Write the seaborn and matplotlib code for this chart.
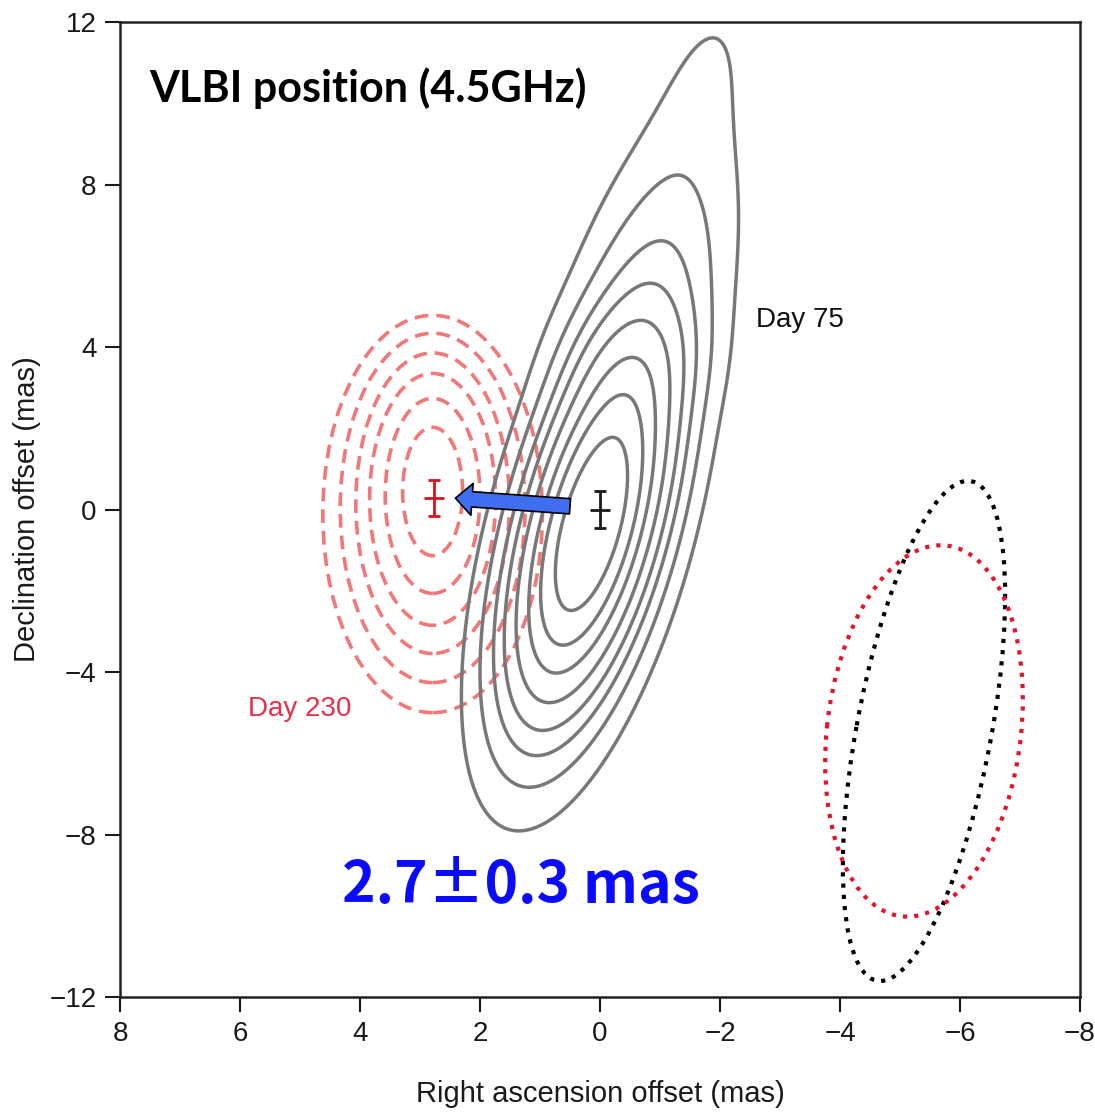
import numpy as np
import matplotlib
matplotlib.use("Agg")
import matplotlib.pyplot as plt
import seaborn as sns
from matplotlib.patches import Ellipse, FancyArrowPatch

# Day 75 image: Gaussian components placed along the jet axis (mas)
day75_cx = [0.15, -0.56, -0.94, -1.78]
day75_cy = [-0.43, 3.71, 5.98, 10.91]
day75_amp = [1.0, 0.04, 0.105, 0.036]
day75_s_along = [3.0, 1.0, 2.45, 2.0]
day75_s_across = [0.7, 0.8, 0.8, 0.6]
day75_axis = [-0.168, 0.986]
day75_levels = [0.041, 0.096, 0.164, 0.239, 0.344, 0.478, 0.617, 0.786]

day230_x = 2.79
day230_yc = [-0.11, 0.04, 0.155, 0.25, 0.335, 0.445]
day230_half_w = [1.83, 1.54, 1.28, 1.05, 0.79, 0.50]
day230_half_h = [4.89, 4.30, 3.70, 3.10, 2.40, 1.58]

# restoring beams
beam_x = [-5.4, -5.4]
beam_y = [-5.45, -5.45]
beam_major = [12.4, 9.16]
beam_minor = [2.26, 3.24]
beam_angle = [97, 94]
beam_color = ["black", "#e3152b"]

# fitted positions
pos_ra = [0.0, 2.77]
pos_dec = [0.0, 0.28]
ra_err = [0.17, 0.17]
dec_err = [0.45, 0.45]
pos_color = ["#1a1a1a", "#d8141e"]

# shift arrow (day 75 -> day 230)
arrow_from = (0.5, 0.08)
arrow_to = (2.41, 0.28)

sns.set_theme(style="ticks")
plt.rcParams["font.family"] = ["Liberation Sans", "DejaVu Sans"]

fig = plt.figure(figsize=(10.95, 11.13), dpi=100)
ax = fig.add_axes([0.1096, 0.1042, 0.8767, 0.876])

# day 75 contours
xs = np.linspace(-8, 8, 500)
ys = np.linspace(-12, 12, 800)
X, Y = np.meshgrid(xs, ys)
dx, dy = np.array(day75_axis) / np.hypot(*day75_axis)
Z = np.zeros_like(X)
for cx, cy, a, su, sw in zip(day75_cx, day75_cy, day75_amp, day75_s_along, day75_s_across):
    U = (X - cx) * dx + (Y - cy) * dy
    W = (X - cx) * dy - (Y - cy) * dx
    Z += a * np.exp(-0.5 * (U / su) ** 2 - 0.5 * (W / sw) ** 2)
ax.contour(X, Y, Z, levels=day75_levels, colors="#787878", linewidths=2.5)

# day 230 contours
for yc, hw, hh in zip(day230_yc, day230_half_w, day230_half_h):
    ax.add_patch(Ellipse((day230_x, yc), 2 * hw, 2 * hh, fill=False,
                         ec="#f07878", lw=2.6, ls=(0, (3.8, 2.2))))

# beams
for bx, by, bmaj, bmin, ang, c in zip(beam_x, beam_y, beam_major, beam_minor, beam_angle, beam_color):
    ax.add_patch(Ellipse((bx, by), bmaj, bmin, angle=ang, fill=False,
                         ec=c, lw=3.0, ls=(0, (1, 1.7))))

# positions with errors
for i in range(2):
    ax.errorbar(pos_ra[i], pos_dec[i], yerr=dec_err[i], fmt="none",
                ecolor=pos_color[i], elinewidth=2.0, capsize=4, capthick=2.0)
    ax.errorbar(pos_ra[i], pos_dec[i], xerr=ra_err[i], fmt="none",
                ecolor=pos_color[i], elinewidth=2.0, capsize=0)

arrow = FancyArrowPatch(arrow_from, arrow_to,
                        arrowstyle="simple,head_length=12,head_width=23,tail_width=11",
                        mutation_scale=1, shrinkA=0, shrinkB=0,
                        fc="#3f6ef0", ec="black", lw=1.2, zorder=5)
ax.add_patch(arrow)

ax.text(3.86, 10.37, "VLBI position (4.5GHz)", ha="center", va="center",
        fontsize=31, fontweight="bold", family=["Lato", "DejaVu Sans"], color="black")
ax.text(-2.6, 4.66, "Day 75", ha="left", va="center", fontsize=20, color="#111111")
ax.text(5.86, -4.9, "Day 230", ha="left", va="center", fontsize=20, color="#e8304a")
ax.text(1.32, -9.26, "2.7\u00b10.3 mas", ha="center", va="center",
        fontsize=41, fontweight="bold", family=["Noto Sans CJK JP", "DejaVu Sans"], color="#0a0aff")

ax.set_xlim(8, -8)
ax.set_ylim(-12, 12)
ax.set_xticks(np.arange(8, -9, -2))
ax.set_yticks(np.arange(-12, 13, 4))
ax.tick_params(direction="out", length=11, width=1.5, labelsize=20, colors="#1a1a1a", pad=6)
for s in ax.spines.values():
    s.set_linewidth(1.8)
    s.set_color("#222222")
ax.set_xlabel("Right ascension offset (mas)", fontsize=21, color="#1a1a1a", labelpad=24)
ax.set_ylabel("Declination offset (mas)", fontsize=21, color="#1a1a1a", labelpad=6)

fig.savefig("out.png", dpi=100, facecolor="white")
